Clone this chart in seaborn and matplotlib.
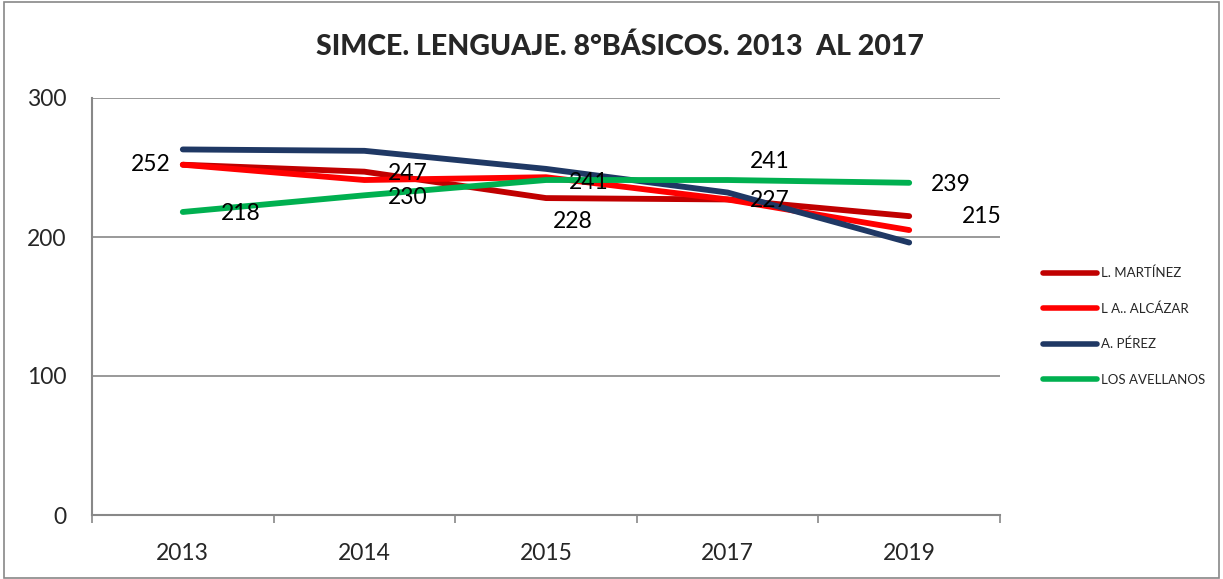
import matplotlib
matplotlib.use("Agg")
import matplotlib.pyplot as plt
from matplotlib.patches import Rectangle
import seaborn as sns
import pandas as pd

years = ["2013", "2014", "2015", "2017", "2019"]
series_names = ["L. MARTÍNEZ", "L A.. ALCÁZAR", "A. PÉREZ", "LOS AVELLANOS"]
martinez = [252, 247, 228, 227, 215]
alcazar = [252, 241, 243, 227, 205]
perez = [263, 262, 249, 232, 196]
avellanos = [218, 230, 241, 241, 239]
colors = ["#C00000", "#FF0000", "#1F3864", "#00B050"]
title = "SIMCE. LENGUAJE. 8°BÁSICOS. 2013  AL 2017"

values = [martinez, alcazar, perez, avellanos]
rows = []
for name, vals in zip(series_names, values):
    for i, (y, v) in enumerate(zip(years, vals)):
        rows.append({"pos": i, "year": y, "serie": name, "valor": v})
df = pd.DataFrame(rows)

sns.set_theme(style="white")
plt.rcParams["font.family"] = ["Lato", "DejaVu Sans"]

fig = plt.figure(figsize=(12.23, 5.79), dpi=100)
ax = fig.add_axes([92 / 1223, 1 - 515 / 579, 908 / 1223, 417 / 579])

sns.lineplot(data=df, x="pos", y="valor", hue="serie", hue_order=series_names,
             palette=colors, linewidth=4.2, ax=ax, legend=True,
             solid_capstyle="round")

ax.set_xlim(-0.5, 4.5)
ax.set_ylim(0, 300)
ax.set_yticks([0, 100, 200, 300])
ax.set_xticks(range(len(years)))
ax.set_xticklabels(years)
ax.set_xticks([i - 0.5 for i in range(len(years) + 1)], minor=True)
ax.tick_params(axis="x", which="major", length=0, pad=20, labelsize=16.5)
ax.tick_params(axis="x", which="minor", length=6, color="#888888", width=1.2,
               direction="out")
ax.tick_params(axis="y", length=6.5, color="#888888", width=1.2, direction="out",
               labelsize=16.5, pad=12)
ax.xaxis.set_tick_params(bottom=True, which="both")
ax.yaxis.grid(True, color="#888888", linewidth=1.2)
ax.set_axisbelow(True)
for s in ["top", "right"]:
    ax.spines[s].set_visible(False)
for s in ["left", "bottom"]:
    ax.spines[s].set_color("#888888")
    ax.spines[s].set_linewidth(1.5)
ax.set_xlabel("")
ax.set_ylabel("")

# data labels
lab_fs = 16.5
offs_m = [(-23, 0), (31.5, -1), (19.5, -17), (30, -1), (52.5, 0)]
offs_a = [(41.5, -1), (31.5, -1.5), (31, -1.5), (30, 13), (30, -1)]
for i, v in enumerate(martinez):
    ax.annotate(str(v), (i, v), xytext=offs_m[i], textcoords="offset points",
                ha="center", va="center", fontsize=lab_fs, color="black")
for i, v in enumerate(avellanos):
    ax.annotate(str(v), (i, v), xytext=offs_a[i], textcoords="offset points",
                ha="center", va="center", fontsize=lab_fs, color="black")

leg = ax.legend(loc="upper left", bbox_to_anchor=(1.041, 0.608), frameon=False,
                fontsize=9.5, handlelength=4.1, handletextpad=0.3,
                labelspacing=1.75, borderaxespad=0)
for line in leg.get_lines():
    line.set_linewidth(4)
    line.set_solid_capstyle("round")

fig.text(620 / 1223, 1 - 47 / 579, title, ha="center", va="center",
         fontsize=20.5, fontweight="black", family=["Lato", "DejaVu Sans"])

fig.patches.append(Rectangle((4 / 1223, 1 / 579), 1215 / 1223, 576 / 579,
                             transform=fig.transFigure, fill=False,
                             edgecolor="#888888", linewidth=1.2))

fig.savefig("out.png", dpi=100)
